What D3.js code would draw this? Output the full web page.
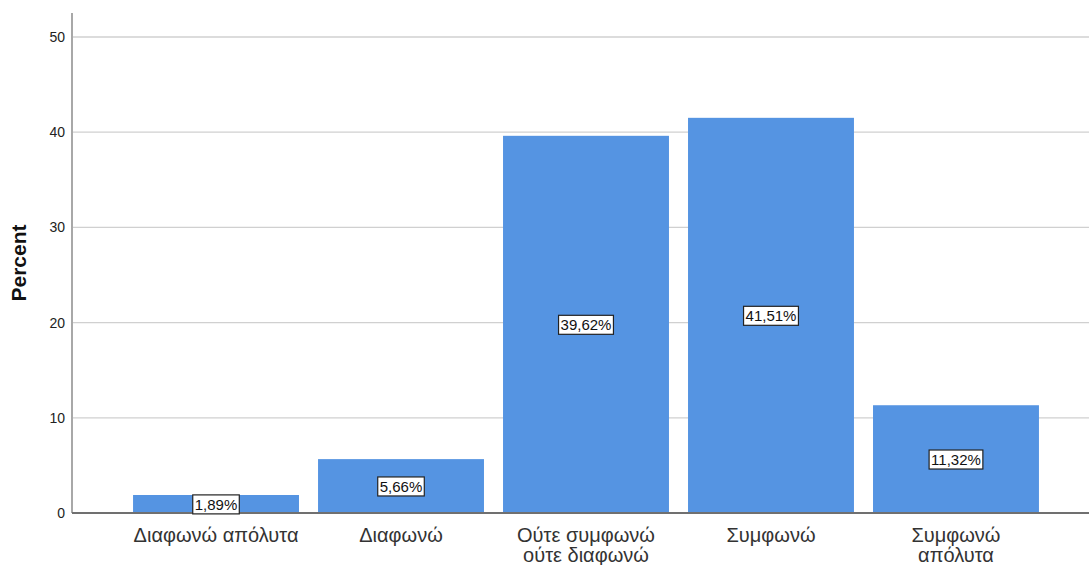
<!DOCTYPE html>
<html>
<head>
<meta charset="utf-8">
<script src="https://cdn.jsdelivr.net/npm/d3@7"></script>
<style>
  body { margin: 0; background: #fff; }
  text { font-family: Arial, "Liberation Sans", sans-serif; }
</style>
</head>
<body>
<div id="wrapper"></div>
<script>
const categories = ["Διαφωνώ απόλυτα", "Διαφωνώ", "Ούτε συμφωνώ|ούτε διαφωνώ", "Συμφωνώ", "Συμφωνώ|απόλυτα"];
const percents = [1.89, 5.66, 39.62, 41.51, 11.32];
const yTicks = [0, 10, 20, 30, 40, 50];

function buildPlot() {
    const dimension = {
        width: 1089,
        height: 565,
        left: 72,
        top: 13,
        bottom: 513,
        right: 1089
    };

    const svg = d3.select("#wrapper").append("svg")
        .attr("width", dimension.width)
        .attr("height", dimension.height);

    const yScaler = d3.scaleLinear()
        .domain([0, 50])
        .range([dimension.bottom, 37]);

    const xScaler = d3.scaleBand()
        .domain(categories)
        .range([dimension.left, 1100])
        .paddingInner(0.103)
        .paddingOuter(0.33);

    // gridlines
    svg.append("g").selectAll("line")
        .data(yTicks.filter(d => d > 0))
        .join("line")
        .attr("x1", dimension.left)
        .attr("x2", dimension.right)
        .attr("y1", d => yScaler(d))
        .attr("y2", d => yScaler(d))
        .attr("stroke", "#d0d0d0")
        .attr("stroke-width", 1.3);

    // bars
    svg.append("g").selectAll("rect")
        .data(percents)
        .join("rect")
        .attr("x", (d, i) => xScaler(categories[i]))
        .attr("width", xScaler.bandwidth())
        .attr("y", d => yScaler(d))
        .attr("height", d => yScaler(0) - yScaler(d))
        .attr("fill", "#5594e2");

    // y axis
    const Ax_y = d3.axisLeft(yScaler).tickValues(yTicks).tickSize(0).tickPadding(7);
    const gy = svg.append("g")
        .attr("transform", `translate(${dimension.left},0)`)
        .call(Ax_y);
    gy.select(".domain").remove();
    gy.selectAll("text").attr("font-size", 14).attr("fill", "#222")
        .style("font-family", "Arial, 'Liberation Sans', sans-serif");
    svg.append("line")
        .attr("x1", dimension.left).attr("x2", dimension.left)
        .attr("y1", dimension.top).attr("y2", dimension.bottom)
        .attr("stroke", "#a8a8a8").attr("stroke-width", 2);

    // x axis
    svg.append("line")
        .attr("x1", dimension.left).attr("x2", dimension.right)
        .attr("y1", dimension.bottom).attr("y2", dimension.bottom)
        .attr("stroke", "#707070").attr("stroke-width", 2);

    const xLabels = svg.append("g").selectAll("text")
        .data(categories)
        .join("text")
        .attr("x", d => xScaler(d) + xScaler.bandwidth() / 2)
        .attr("y", 542)
        .attr("text-anchor", "middle")
        .attr("font-size", 20)
        .attr("fill", "#333");
    xLabels.each(function (d) {
        const lines = d.split("|");
        d3.select(this).selectAll("tspan")
            .data(lines)
            .join("tspan")
            .attr("x", xScaler(d) + xScaler.bandwidth() / 2)
            .attr("dy", (l, i) => i === 0 ? 0 : 20)
            .text(l => l);
    });

    // y title
    svg.append("text")
        .attr("transform", `translate(26,${(dimension.top + dimension.bottom) / 2}) rotate(-90)`)
        .attr("text-anchor", "middle")
        .attr("font-size", 21)
        .attr("font-weight", "bold")
        .attr("fill", "#111")
        .text("Percent");

    // value labels
    const lab = svg.append("g").selectAll("g")
        .data(percents)
        .join("g")
        .attr("transform", (d, i) => `translate(${xScaler(categories[i]) + xScaler.bandwidth() / 2},${(yScaler(d) + yScaler(0)) / 2 + 0.5})`);
    lab.append("text")
        .attr("text-anchor", "middle")
        .attr("dy", "0.36em")
        .attr("font-size", 15)
        .attr("fill", "#111")
        .text(d => d.toFixed(2).replace(".", ",") + "%");
    lab.each(function () {
        const g = d3.select(this);
        const bb = g.select("text").node().getBBox();
        g.insert("rect", "text")
            .attr("x", bb.x - 2)
            .attr("y", bb.y - 1)
            .attr("width", bb.width + 4)
            .attr("height", bb.height + 2)
            .attr("fill", "#fff")
            .attr("stroke", "#222")
            .attr("stroke-width", 1.2);
    });
}

buildPlot();
</script>
</body>
</html>
